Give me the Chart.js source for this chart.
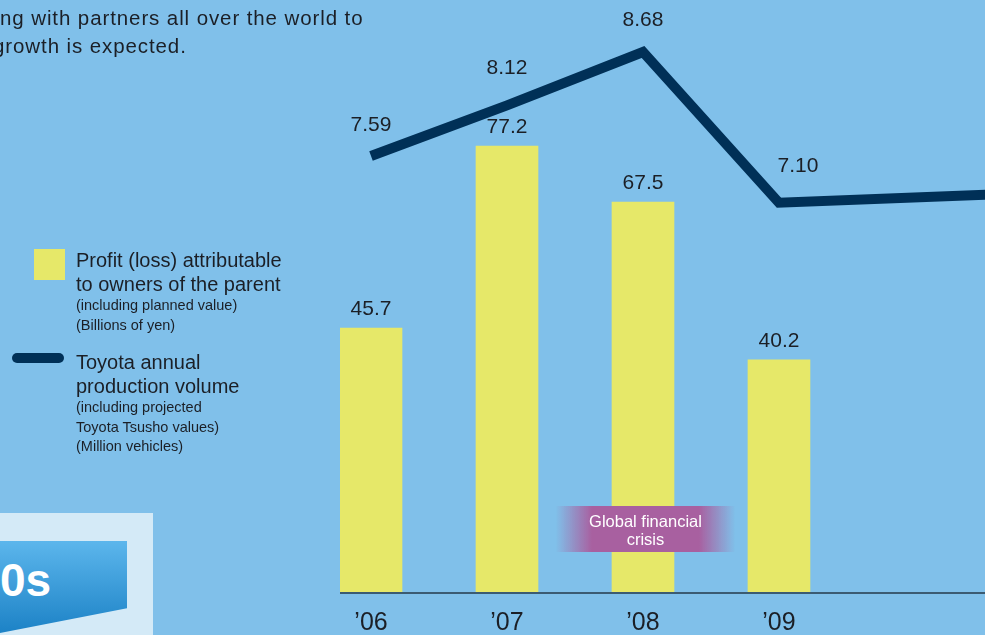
<!DOCTYPE html>
<html>
<head>
<meta charset="utf-8">
<script src="https://cdn.jsdelivr.net/npm/chart.js@4.4.1/dist/chart.umd.min.js"></script>
<style>
  html, body { margin: 0; padding: 0; }
  body { width: 985px; height: 635px; overflow: hidden; position: relative; background: #80c0ea;
         font-family: "Liberation Sans", Arial, sans-serif; color: #1b1f26; }
  #wrap { position: absolute; left: 0; top: 0; width: 985px; height: 635px; }
  .txt { position: absolute; white-space: nowrap; }
  .intro { font-size: 20.5px; line-height: 28px; left: 0; top: 4px; letter-spacing: 0.9px; }
  .lg-big { font-size: 20px; line-height: 24px; }
  .lg-small { font-size: 14.5px; line-height: 19.5px; }
  #swatchBar { position: absolute; left: 34px; top: 249px; width: 31px; height: 31px; background: #e6e869; }
  #swatchLine { position: absolute; left: 12px; top: 353px; width: 52px; height: 10px; border-radius: 5px; background: #003057; }
  #panel { position: absolute; left: 0; top: 513px; width: 153px; height: 122px; background: #d4eaf7; }
  #tab { position: absolute; left: 0; top: 541px; width: 127px; height: 92px;
         background: linear-gradient(#5cb6ec, #1c82c6);
         clip-path: polygon(0 0, 100% 0, 100% 73%, 0 100%); }
  #tab span { position: absolute; left: 0; top: 12px; font-size: 46px; font-weight: bold; color: #fff; }
  #crisis { position: absolute; left: 556px; top: 506px; width: 179px; height: 46px;
            background: linear-gradient(90deg, rgba(168,96,160,0), #a860a0 20%, #a860a0 80%, rgba(168,96,160,0));
            color: #fff; font-size: 16.5px; line-height: 18px; text-align: center; padding-top: 6px; box-sizing: border-box; }
</style>
</head>
<body>
<div id="wrap"><canvas id="chart" width="985" height="635"></canvas></div>

<div class="txt intro">ng with partners all over the world to<br><span style="margin-left:-7px">growth is expected.</span></div>

<div id="swatchBar"></div>
<div class="txt" style="left:76px; top:248px;">
  <div class="lg-big">Profit (loss) attributable<br>to owners of the parent</div>
  <div class="lg-small">(including planned value)<br>(Billions of yen)</div>
</div>
<div id="swatchLine"></div>
<div class="txt" style="left:76px; top:350px;">
  <div class="lg-big">Toyota annual<br>production volume</div>
  <div class="lg-small">(including projected<br>Toyota Tsusho values)<br>(Million vehicles)</div>
</div>

<div id="panel"></div>
<div id="tab"><span>0s</span></div>

<script>
// fiscal years shown on the axis
const years = [6, 7, 8, 9];
const yearLabels = ["\u201906", "\u201907", "\u201908", "\u201909"];

// profit attributable to owners of the parent (billions of yen)
const profit = [45.7, 77.2, 67.5, 40.2];

// Toyota annual production volume (million vehicles); last point runs off the right edge
const prodYears = [6, 7, 8, 9, 11];
const production = [7.59, 8.12, 8.68, 7.10, 7.21];
const prodLabels = ["7.59", "8.12", "8.68", "7.10", ""];

const bgPlugin = {
  id: 'bg',
  beforeDraw(chart) {
    const ctx = chart.ctx;
    ctx.save();
    ctx.fillStyle = '#80c0ea';
    ctx.fillRect(0, 0, chart.width, chart.height);
    ctx.restore();
  }
};

const labelPlugin = {
  id: 'labels',
  afterDatasetsDraw(chart) {
    const ctx = chart.ctx;
    const area = chart.chartArea;
    const xs = chart.scales.x;
    ctx.save();
    // axis line
    ctx.strokeStyle = '#3b5b72';
    ctx.lineWidth = 2;
    ctx.beginPath();
    ctx.moveTo(area.left, area.bottom + 1);
    ctx.lineTo(area.right, area.bottom + 1);
    ctx.stroke();

    ctx.fillStyle = '#1b1f26';
    ctx.textAlign = 'center';
    ctx.textBaseline = 'middle';

    // year labels
    ctx.font = '25px "Liberation Sans", Arial, sans-serif';
    years.forEach((y, i) => {
      ctx.fillText(yearLabels[i], xs.getPixelForValue(y), area.bottom + 31);
    });

    // bar values
    ctx.font = '21px "Liberation Sans", Arial, sans-serif';
    chart.getDatasetMeta(0).data.forEach((el, i) => {
      ctx.fillText(profit[i].toFixed(1), el.x, el.y - 19);
    });

    // line values (slightly nudged off the line, like the original)
    const dy = [31, 37, 32, 37];
    chart.getDatasetMeta(1).data.forEach((el, i) => {
      if (!prodLabels[i]) return;
      const dx = i === 3 ? 19 : 0;
      ctx.fillText(prodLabels[i], el.x + dx, el.y - dy[i]);
    });
    ctx.restore();
  }
};

new Chart(document.getElementById('chart'), {
  data: {
    datasets: [
      {
        type: 'bar',
        label: 'Profit',
        data: years.map((y, i) => ({ x: y, y: profit[i] })),
        backgroundColor: '#e6e869',
        borderWidth: 0,
        barThickness: 62,
        yAxisID: 'y',
        order: 2
      },
      {
        type: 'line',
        label: 'Production',
        data: prodYears.map((y, i) => ({ x: y, y: production[i] })),
        borderColor: '#003057',
        borderWidth: 10,
        borderJoinStyle: 'miter',
        borderCapStyle: 'butt',
        pointRadius: 0,
        tension: 0,
        fill: false,
        yAxisID: 'y1',
        order: 1
      }
    ]
  },
  options: {
    responsive: false,
    animation: false,
    layout: { padding: { left: 340, right: 0, top: 0, bottom: 43 } },
    plugins: { legend: { display: false }, tooltip: { enabled: false } },
    scales: {
      x: { type: 'linear', display: false, offset: false, min: 5.772, max: 10.515 },
      y: { display: false, min: 0, max: 102.5 },
      y1: { display: false, min: 3.02, max: 9.225 }
    }
  },
  plugins: [bgPlugin, labelPlugin]
});
</script>

<div id="crisis">Global financial<br>crisis</div>
</body>
</html>
